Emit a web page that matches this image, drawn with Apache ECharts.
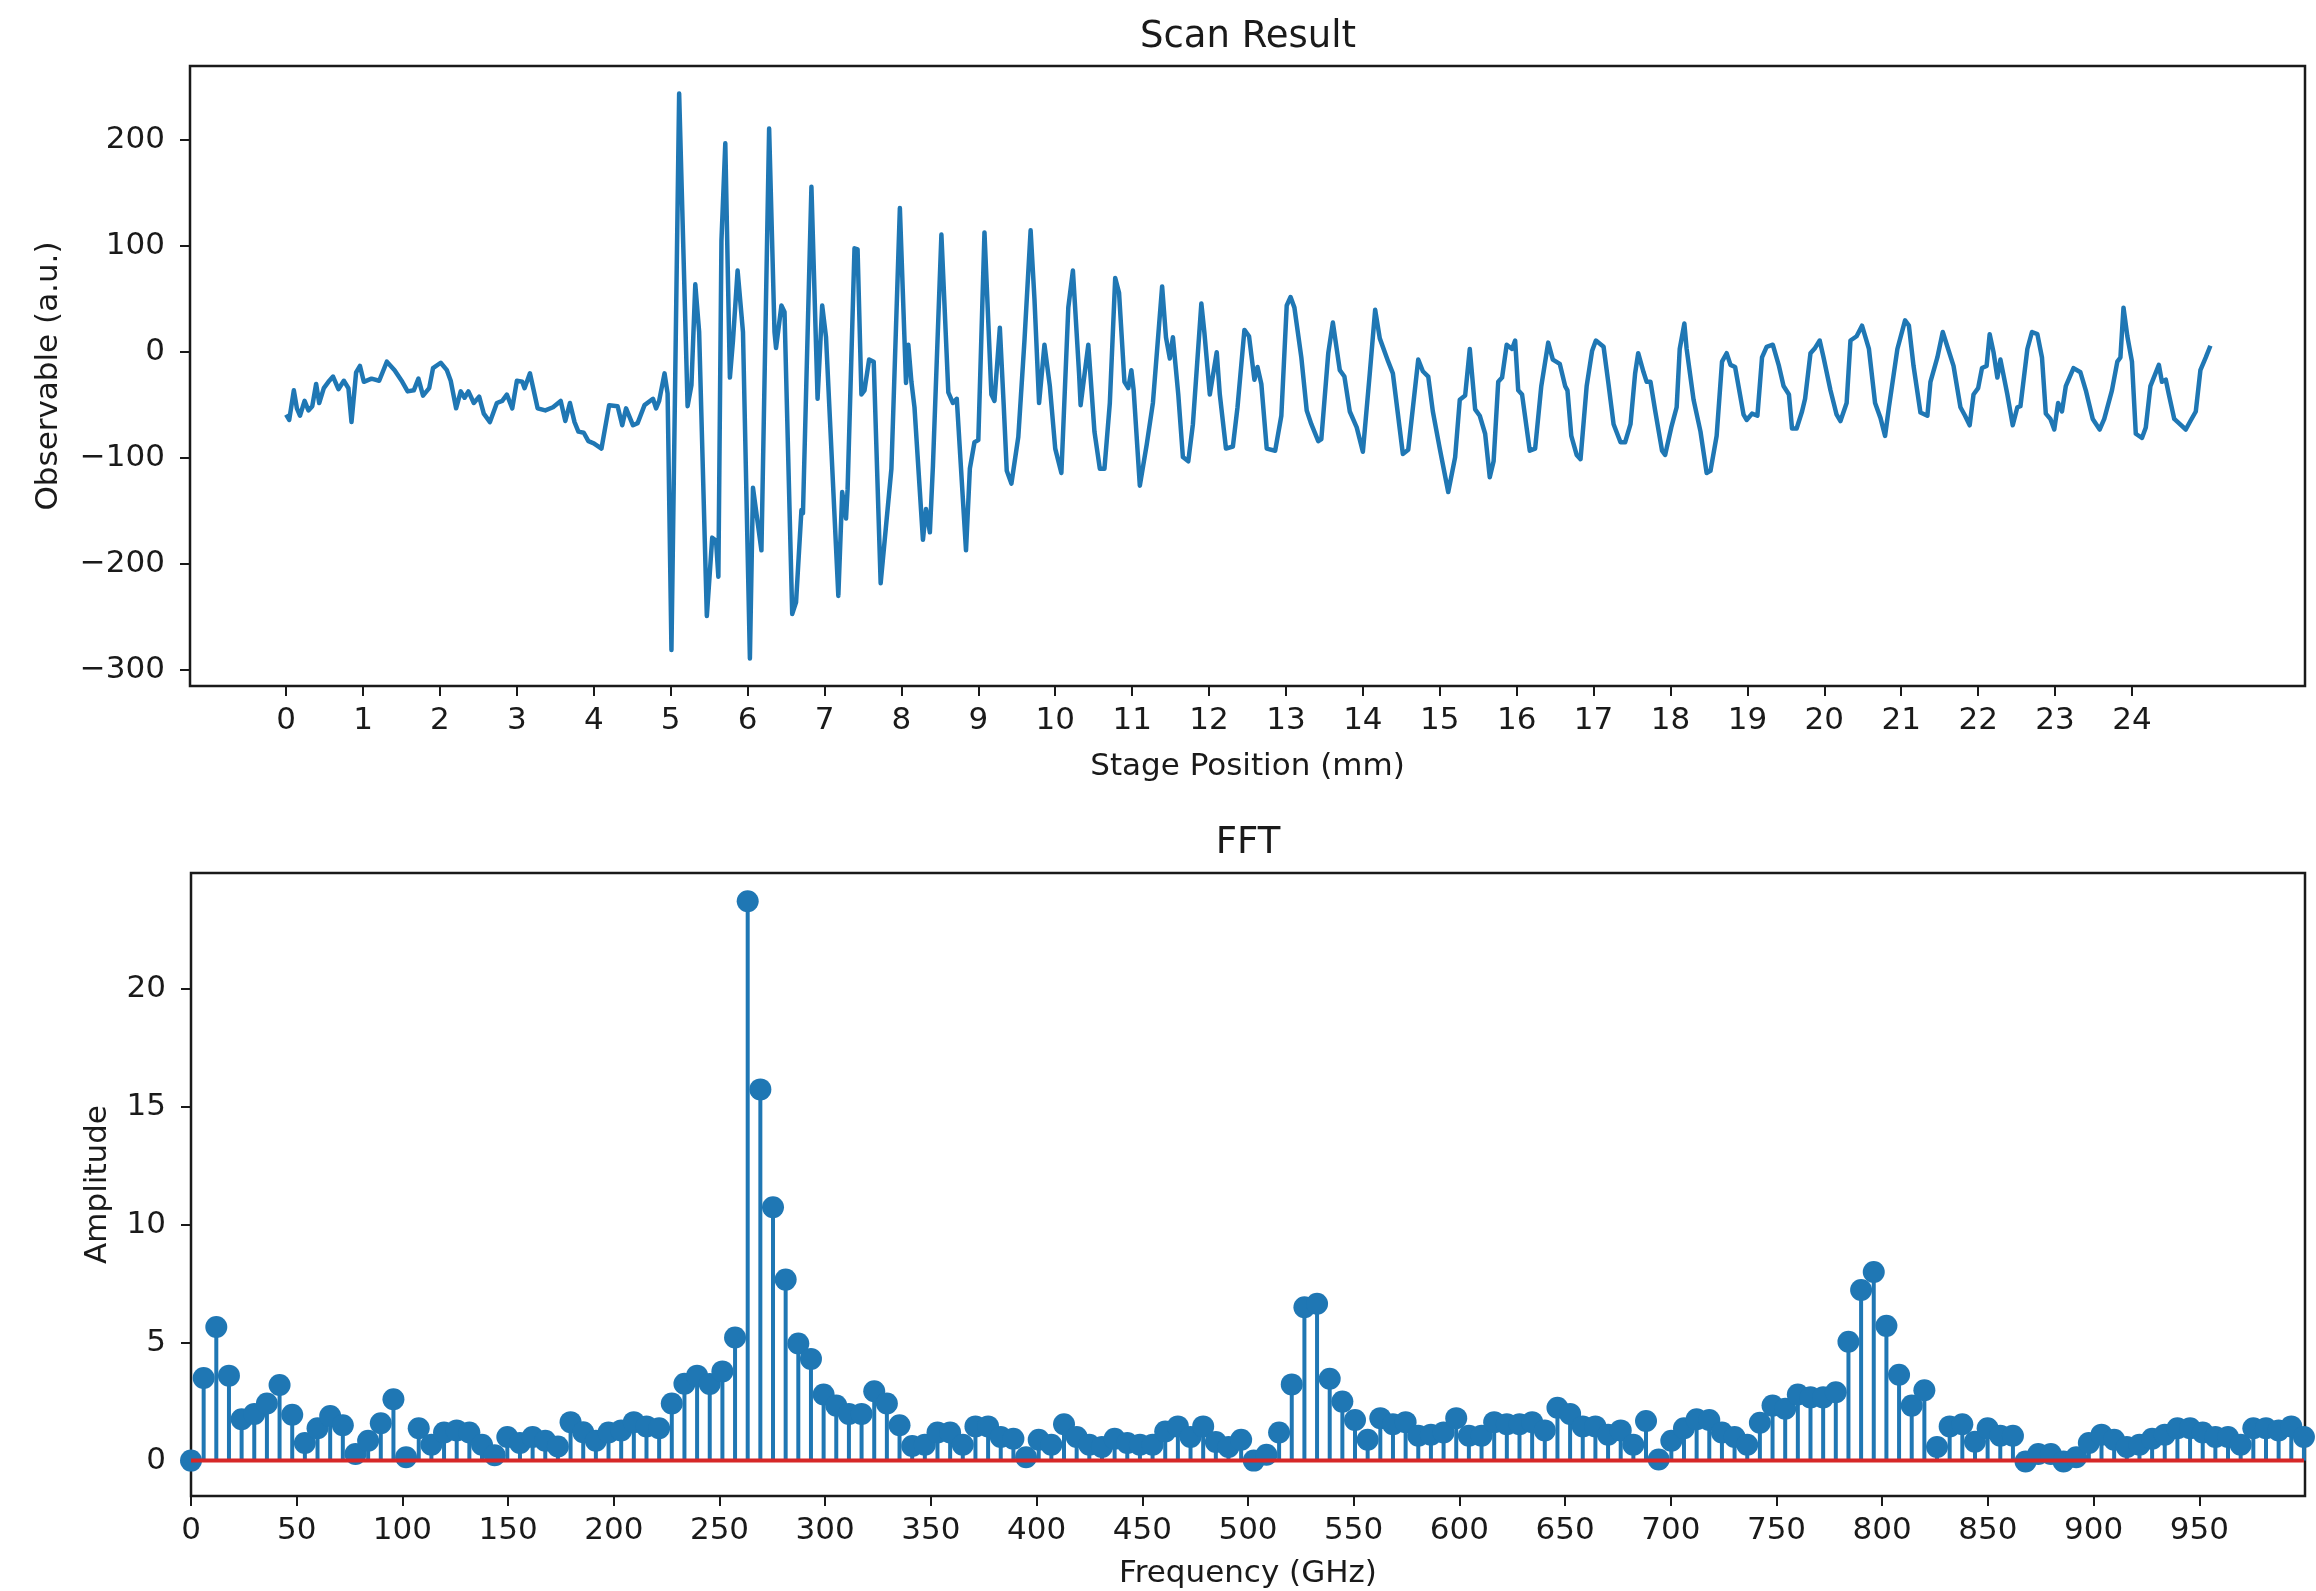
<!DOCTYPE html>
<html>
<head>
<meta charset="utf-8">
<title>Scan Result / FFT</title>
<script src="https://cdn.jsdelivr.net/npm/echarts@6.0.0/dist/echarts.min.js"></script>
<style>
  html, body { margin: 0; padding: 0; background: #fff; }
  #chart { width: 2316px; height: 1591px; }
</style>
</head>
<body>
<div id="chart"></div>
<script>
// stage position (mm) and observable (a.u.)
var scanPos = [
  0.00,0.04,0.10,0.14,0.18,0.24,0.29,0.34,0.39,0.43,
  0.49,0.55,0.61,0.68,0.75,0.81,0.85,0.91,0.96,1.01,
  1.11,1.21,1.31,1.41,1.51,1.58,1.66,1.72,1.78,1.86,
  1.91,2.01,2.09,2.14,2.21,2.27,2.32,2.37,2.44,2.51,
  2.57,2.65,2.74,2.81,2.87,2.94,3.00,3.07,3.10,3.17,
  3.27,3.37,3.47,3.57,3.63,3.69,3.75,3.80,3.87,3.93,
  4.00,4.10,4.20,4.31,4.37,4.42,4.51,4.57,4.66,4.77,
  4.81,4.85,4.92,4.96,5.01,5.11,5.22,5.27,5.32,5.37,
  5.47,5.54,5.59,5.62,5.66,5.71,5.77,5.81,5.87,5.94,
  6.03,6.07,6.18,6.28,6.35,6.37,6.44,6.48,6.58,6.63,
  6.70,6.72,6.83,6.91,6.97,7.02,7.18,7.23,7.28,7.30,
  7.39,7.43,7.48,7.52,7.58,7.64,7.73,7.80,7.87,7.98,
  8.06,8.09,8.13,8.17,8.28,8.32,8.37,8.41,8.52,8.61,
  8.67,8.72,8.84,8.89,8.95,9.00,9.08,9.17,9.21,9.28,
  9.33,9.37,9.43,9.52,9.60,9.68,9.73,9.79,9.86,9.93,
  10.00,10.08,10.17,10.23,10.31,10.33,10.43,10.51,10.58,10.64,
  10.71,10.78,10.83,10.90,10.95,10.99,11.02,11.10,11.19,11.27,
  11.39,11.44,11.49,11.53,11.60,11.66,11.73,11.79,11.90,11.94,
  12.01,12.10,12.14,12.22,12.31,12.37,12.46,12.52,12.59,12.63,
  12.68,12.75,12.86,12.94,13.01,13.06,13.11,13.20,13.27,13.33,
  13.42,13.46,13.55,13.61,13.70,13.76,13.83,13.92,14.00,14.09,
  14.16,14.22,14.33,14.39,14.52,14.59,14.72,14.78,14.85,14.91,
  15.00,15.11,15.20,15.26,15.33,15.39,15.46,15.52,15.59,15.65,
  15.70,15.76,15.81,15.87,15.94,15.98,16.02,16.07,16.17,16.24,
  16.32,16.41,16.47,16.56,16.63,16.66,16.71,16.78,16.83,16.91,
  16.98,17.03,17.13,17.19,17.26,17.35,17.41,17.48,17.54,17.58,
  17.65,17.69,17.74,17.80,17.89,17.93,18.01,18.08,18.12,18.18,
  18.21,18.30,18.39,18.47,18.52,18.60,18.67,18.73,18.78,18.84,
  18.95,18.99,19.06,19.13,19.19,19.25,19.33,19.41,19.47,19.54,
  19.58,19.64,19.71,19.75,19.82,19.88,19.94,19.99,20.08,20.16,
  20.21,20.29,20.34,20.42,20.49,20.58,20.66,20.73,20.79,20.84,
  20.95,21.05,21.10,21.16,21.25,21.34,21.38,21.47,21.54,21.61,
  21.68,21.77,21.83,21.89,21.94,22.00,22.05,22.11,22.15,22.20,
  22.25,22.29,22.38,22.45,22.51,22.55,22.64,22.70,22.77,22.83,
  22.88,22.94,22.99,23.04,23.09,23.14,23.24,23.33,23.40,23.49,
  23.58,23.64,23.74,23.81,23.85,23.89,23.94,24.00,24.05,24.13,
  24.18,24.24,24.35,24.39,24.44,24.48,24.55,24.61,24.70,24.76,
  24.83,24.89,24.96,25.02
];
var scanVal = [
  -59,-64,-36,-53,-60,-46,-55,-51,-30,-48,
  -34,-28,-23,-35,-27,-34,-66,-19,-13,-28,
  -25,-27,-9,-17,-28,-37,-36,-25,-41,-34,
  -15,-10,-17,-27,-53,-37,-43,-37,-48,-42,
  -58,-66,-48,-46,-40,-53,-27,-28,-34,-20,
  -53,-55,-52,-46,-65,-48,-66,-75,-76,-84,
  -86,-91,-50,-51,-69,-53,-69,-67,-50,-44,
  -53,-46,-20,-39,-281,244,-51,-31,64,19,
  -249,-175,-178,-212,105,197,-24,11,77,19,
  -289,-128,-187,211,19,4,44,38,-247,-236,
  -149,-152,156,-44,44,14,-230,-132,-157,-130,
  98,97,-40,-36,-7,-9,-218,-164,-110,136,
  -29,7,-28,-52,-177,-148,-170,-107,111,-38,
  -48,-44,-187,-110,-85,-83,113,-40,-46,23,
  -50,-112,-124,-80,11,115,50,-48,7,-32,
  -91,-114,42,77,-20,-50,7,-75,-110,-110,
  -48,70,56,-28,-34,-17,-36,-126,-87,-48,
  62,14,-6,14,-40,-99,-103,-68,46,18,
  -40,0,-40,-91,-89,-52,21,15,-26,-14,
  -30,-91,-93,-60,44,52,42,-5,-55,-68,
  -84,-82,-1,28,-17,-23,-56,-71,-94,-20,
  40,13,-9,-20,-96,-92,-7,-18,-23,-56,
  -91,-132,-99,-45,-41,3,-54,-60,-77,-118,
  -103,-28,-24,7,3,11,-36,-40,-93,-91,
  -32,9,-7,-11,-32,-36,-79,-97,-101,-32,
  1,11,5,-28,-68,-85,-85,-68,-20,-1,
  -19,-28,-28,-55,-93,-97,-71,-52,3,27,
  3,-45,-75,-114,-112,-79,-9,-1,-12,-14,
  -59,-64,-58,-60,-5,5,7,-13,-32,-40,
  -72,-72,-56,-44,-1,4,11,-5,-36,-59,
  -65,-48,11,15,25,3,-48,-62,-79,-52,
  3,30,25,-13,-57,-60,-28,-5,19,3,
  -13,-52,-60,-69,-40,-34,-15,-13,17,0,
  -24,-7,-40,-69,-52,-51,3,19,17,-5,
  -58,-63,-73,-48,-56,-32,-15,-19,-36,-63,
  -73,-63,-36,-9,-5,42,15,-9,-77,-81,
  -71,-32,-12,-28,-26,-40,-63,-67,-73,-65,
  -56,-17,-5,6
];

// FFT bins: spacing in GHz and amplitude per bin
var fftBinGHz = 5.985;
var fftAmp = [
  0,3.5,5.66,3.6,1.75,1.98,2.42,3.2,1.94,0.75,
  1.37,1.89,1.5,0.28,0.84,1.58,2.6,0.14,1.37,0.67,
  1.19,1.28,1.19,0.67,0.23,1.0,0.75,1.0,0.84,0.6,
  1.63,1.2,0.84,1.19,1.28,1.63,1.45,1.37,2.42,3.26,
  3.6,3.25,3.78,5.22,23.7,15.73,10.74,7.67,4.96,4.31,
  2.8,2.33,1.98,1.98,2.94,2.42,1.5,0.62,0.67,1.19,
  1.19,0.67,1.45,1.45,1.0,0.93,0.14,0.88,0.67,1.54,
  1.0,0.67,0.58,0.93,0.75,0.67,0.67,1.23,1.45,1.0,
  1.45,0.79,0.58,0.88,0.0,0.25,1.19,3.23,6.5,6.65,
  3.47,2.5,1.72,0.88,1.8,1.54,1.63,1.05,1.1,1.19,
  1.8,1.05,1.05,1.63,1.54,1.54,1.63,1.28,2.24,1.98,
  1.45,1.45,1.1,1.28,0.67,1.68,0.05,0.84,1.37,1.75,
  1.72,1.19,1.0,0.67,1.6,2.33,2.2,2.8,2.68,2.68,
  2.9,5.04,7.23,7.99,5.71,3.64,2.33,2.98,0.58,1.45,
  1.54,0.8,1.37,1.05,1.05,-0.04,0.28,0.28,-0.04,0.14,
  0.75,1.1,0.88,0.58,0.67,0.93,1.1,1.37,1.37,1.19,
  1.0,1.0,0.67,1.37,1.37,1.28,1.45,1.0
];

// tick values shown on the axes
var scanXTicks = [0,1,2,3,4,5,6,7,8,9,10,11,12,13,14,15,16,17,18,19,20,21,22,23,24];
var scanYTicks = [-300,-200,-100,0,100,200];
var fftXTicks = [0,50,100,150,200,250,300,350,400,450,500,550,600,650,700,750,800,850,900,950];
var fftYTicks = [0,5,10,15,20];

var BLUE = '#1f77b4';
var INK = '#1a1a1a';
var FONT = 'DejaVu Sans';

var scanData = [];
for (var i = 0; i < scanPos.length; i++) {
  scanData.push([scanPos[i], scanVal[i]]);
}
var fftData = [];
for (var k = 0; k < fftAmp.length; k++) {
  fftData.push([+(k * fftBinGHz).toFixed(3), fftAmp[k]]);
}
var fftLast = fftData[fftData.length - 1][0];

function minusFmt(v) {
  return v < 0 ? '\u2212' + Math.abs(v) : String(v);
}

function axisCommon(ticks, labelMargin, fmt) {
  return {
    // keep the axes on the frame edge, not on the zero line
    axisLine: { show: false, onZero: false },
    splitLine: { show: false },
    axisTick: {
      show: true, inside: false, length: 10,
      customValues: ticks,
      lineStyle: { color: INK, width: 2 }
    },
    axisLabel: {
      customValues: ticks,
      margin: labelMargin,
      color: INK,
      fontFamily: FONT,
      fontSize: 31,
      formatter: fmt || function (v) { return String(v); }
    },
    nameTextStyle: { color: INK, fontFamily: FONT, fontSize: 31 }
  };
}

var chart = echarts.init(document.getElementById('chart'), null, { renderer: 'canvas' });

var option = {
  animation: false,
  backgroundColor: '#ffffff',
  textStyle: { fontFamily: FONT },
  title: [
    {
      text: 'Scan Result', left: 1248, top: 19, padding: 0,
      textAlign: 'center', textVerticalAlign: 'top',
      textStyle: { color: INK, fontFamily: FONT, fontSize: 37, fontWeight: 'normal' }
    },
    {
      text: 'FFT', left: 1248, top: 825, padding: 0,
      textAlign: 'center', textVerticalAlign: 'top',
      textStyle: { color: INK, fontFamily: FONT, fontSize: 37, fontWeight: 'normal' }
    }
  ],
  grid: [
    { left: 190, top: 66, width: 2115, height: 620, show: true,
      borderColor: INK, borderWidth: 2.5, containLabel: false },
    { left: 191, top: 873, width: 2114, height: 623, show: true,
      borderColor: INK, borderWidth: 2.5, containLabel: false }
  ],
  xAxis: [
    Object.assign(axisCommon(scanXTicks, 19), {
      type: 'value', gridIndex: 0, min: -1.25, max: 26.25,
      name: 'Stage Position (mm)', nameLocation: 'middle', nameGap: 65
    }),
    Object.assign(axisCommon(fftXTicks, 19), {
      type: 'value', gridIndex: 1, min: 0, max: 1000,
      name: 'Frequency (GHz)', nameLocation: 'middle', nameGap: 62
    })
  ],
  yAxis: [
    Object.assign(axisCommon(scanYTicks, 25, minusFmt), {
      type: 'value', gridIndex: 0, min: -315, max: 270,
      name: 'Observable (a.u.)', nameLocation: 'middle', nameGap: 126
    }),
    Object.assign(axisCommon(fftYTicks, 25), {
      type: 'value', gridIndex: 1, min: -1.5, max: 24.9,
      name: 'Amplitude', nameLocation: 'middle', nameGap: 78
    })
  ],
  series: [
    {
      name: 'scan', type: 'line', xAxisIndex: 0, yAxisIndex: 0,
      data: scanData, showSymbol: false, smooth: false,
      lineStyle: { color: BLUE, width: 4.5, join: 'round' },
      itemStyle: { color: BLUE }
    },
    {
      // stems
      name: 'stem', type: 'bar', xAxisIndex: 1, yAxisIndex: 1,
      data: fftData, barWidth: 4,
      itemStyle: { color: BLUE, opacity: 1 }, z: 2
    },
    {
      // stem heads
      name: 'head', type: 'scatter', xAxisIndex: 1, yAxisIndex: 1,
      data: fftData, symbol: 'circle', symbolSize: 22,
      itemStyle: { color: BLUE, opacity: 1 }, z: 3
    },
    {
      // baseline of the stem plot
      name: 'baseline', type: 'line', xAxisIndex: 1, yAxisIndex: 1,
      data: [[0, 0], [fftLast, 0]], showSymbol: false,
      lineStyle: { color: '#d62728', width: 4 }, z: 4
    }
  ]
};

chart.setOption(option);
</script>
</body>
</html>
